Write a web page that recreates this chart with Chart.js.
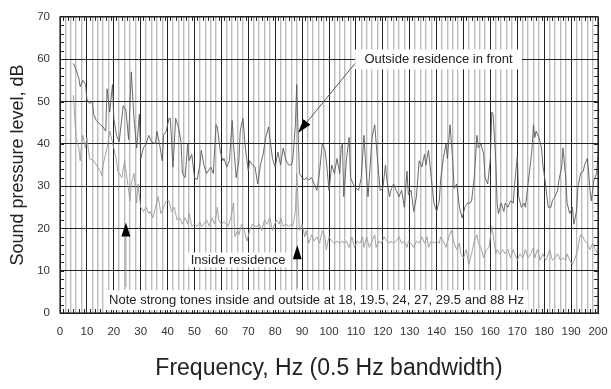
<!DOCTYPE html>
<html>
<head>
<meta charset="utf-8">
<script src="https://cdn.jsdelivr.net/npm/chart.js@4"></script>
<style>
  html, body { margin: 0; padding: 0; background: #fff; }
  #wrap { width: 611px; height: 389px; }
</style>
</head>
<body>
<div id="wrap"><canvas id="chart" width="611" height="389"></canvas></div>
<script>
// outside residence in front (Hz, dB)
const outsideHz = [5,6,7,7.5,8.5,9.5,10,11,12,12.5,13.5,15,16,17,17.5,18.5,19.5,20,21,22,23.5,24.5,25.5,26.5,27.5,28.5,29.5,30,31,32,33,34,35.5,36,37,38,38.5,39.5,40.5,41,42,43,44,45,45.5,46.5,47.5,48,49,50,51,52,52.5,53.5,54.5,55,56,57,58,58.5,59.5,60.5,61,62,63,64,64.5,65.5,66.5,67,68,69,70,70.5,71.5,72.5,73.5,74.5,75.5,76.5,77.5,78,79,80,81,82,83,84,85,86,86.5,87.5,88,88.5,89,90,91,91.5,92.5,93.5,94.5,95.5,96.5,97.5,98.5,99,100,101,102,103,104,104.5,105,105.5,106.5,107.5,108,109,110,111,112,113,113.5,114.5,115,116,117,118,119,120,121,121.5,122.5,123,124,125,126,127,128,129,129.5,130.5,131.5,132.5,133.5,134.5,135.5,136,137,138,139,140,141,141.5,142.5,143.5,144,145,146,146.5,147.5,148.5,149.5,150.5,151.5,152.5,153,154,155,155.5,156.5,157.5,158,159,160,160.5,161,162,162.5,163,164,165,165.5,166.5,167.5,168.5,169,170,170.5,171.5,172.5,173,174,175,175.5,176,176.5,177,178,178.5,179,179.5,180.5,181,181.5,182.5,183,184,185,185.5,186.5,187,188,188.5,189.5,190.5,191,192,192.5,193.5,194.5,195,196,196.5,197,197.5,198.5,199.5,200];
const outsideDb = [59,57.5,55.5,53.5,55,54,50.5,49.5,50,47,45.5,44.5,44,43,53,47.5,54,46,42,40.5,49,48,41,57,46,39,47,36.5,39,40,42,40.5,40,43,40,36,42,43,46,46,34.5,46,44,40.5,33,32,40,36,37.5,32,31.5,35,38.5,35,33,33.5,34.5,33,44.5,44,38.5,36,36.5,34.5,36,45.5,40,32,36,43,46,38.5,33.5,36,35,34.5,30.5,35,37.5,41.5,44,41.5,36.5,34.5,38,35,39,36,35,35,36,44.5,54,43,33,32,31.5,32,31.5,32,30.5,29,33.5,40,38.5,36,29,35,33,36.5,33,39,40,27.5,36.5,41.5,32,30.5,29.5,29,32,42,36.5,27.5,32,41.5,44.5,36.5,29,29.5,35,31.5,27.5,29,30.5,29,27.5,29,25,33.5,28,29,24,27.5,36,34.5,37.5,35,38.5,32,26,24,26.5,31.5,36.5,40,36.5,44.5,36,29.5,30.5,25,22.5,25,26,26,26.5,32,42,39,40,37.5,32,30.5,36.5,47.5,47,36,26,23.5,26,24,26,25,26.5,26,30.5,37,27.5,25,26,25,30.5,36,39,44.5,41.5,43,41.5,40.5,39,35,30.5,27.5,25,25,26.5,27.5,29,31.5,34.5,39,32,26,23.5,25,21,24,29.5,33,33.5,35,36.5,33.5,29,26.5,31.5,33,37];

// inside residence (Hz, dB)
const insideHz = [5,5.5,6,7,7.5,8,8.5,9.5,10,11,12.5,13.5,15,15.5,16,17.5,18.5,20,21,21.5,23,24,25.5,26,26.5,27.5,28.5,29,30,31,32,33,33.5,34.5,35.5,36.5,37.5,38.5,39.5,40.5,41.5,42.5,43.5,44.5,45.5,46.5,47.5,48,49,50,51,52,52.5,53.5,54.5,55.5,56.5,57.5,58.5,59,60,61,62,62.5,63.5,64.5,65,66,66.5,67.5,68.5,69.5,70.5,71.5,72.5,73.5,74,75,76,77,78,79,79.5,80.5,81.5,82,83,84,85,86,86.5,87.5,88,89,90,91,91.5,92.5,93.5,94.5,95.5,96.5,97.5,98.5,99,100,101,102,103,104,105,105.5,106.5,107.5,108.5,109.5,110.5,111.5,112.5,113,114,115,116,117,117.5,118.5,119.5,120.5,121.5,122.5,123,124,125,126,127,128,129,129.5,130.5,131.5,132.5,133.5,134.5,135.5,136.5,137,138,139,140,141,141.5,142.5,143.5,144.5,145.5,146.5,147.5,148.5,149,150,151,152,153,154,155,155.5,156.5,157.5,158.5,159.5,160.5,161,162,162.5,163.5,164.5,165.5,166.5,167.5,168.5,169,170,171,172,173,174,175,176,176.5,177.5,178.5,179.5,180.5,181,182,183,184,185,186,187,188,188.5,189.5,190.5,191.5,192.5,193,193.5,194.5,195,196,197,198,199,200];
const insideDb = [51.5,46,41.5,39,36,40,42,39,41.5,36.5,36,35,33.5,32.5,35,39,43,39,36,33.5,32,36,29,26.5,30.5,33,26,30.5,25,24,25,23.5,24,22.5,25,27.5,23.5,25,26.5,26.5,24,25,22,22.5,21,22.5,21,23.5,20.5,21,20.5,21.5,20.5,21,22,20.5,22.5,21,25,22,21,21.5,21,20.5,22.5,26,18,19.5,18.5,21,19.5,17,19.5,21,20.5,20.5,21,19.5,22,21,22.5,19.5,20.5,22,21,22.5,20.5,21,20.5,21,20.5,24,33,19.5,21,18,19.5,16.5,18.5,17,18,16.5,19.5,18,15,18,17,16.5,17,16.5,17,16.5,17,15.5,18,15.5,17,16.5,18,15.5,18,15.5,17,18.5,15.5,17,16.5,18,17,16.5,17,16.5,17,18,16.5,17,15.5,17,16.5,15.5,17,16.5,18,16.5,18,15.5,17,16.5,17,16.5,18,17,15.5,18,19.5,16.5,15,16.5,14,13,15,11.5,14,17,18.5,16.5,15.5,13,15,15.5,20.5,18.5,14,15,14,15,14,15,13,15,14,12.5,14,13,15,13,14,15.5,13,15,12.5,14,12.5,13,15,12.5,13,14,12.5,13,12.5,14,12.5,11.5,13,15,17,18.5,18,17,16.5,15,16.5,15,14];

const xTickValues = [0,10,20,30,40,50,60,70,80,90,100,110,120,130,140,150,160,170,180,190,200];
const yTickValues = [0,10,20,30,40,50,60,70];

const FONT = '"Liberation Sans", Arial, sans-serif';

function toPoints(xs, ys) {
    return xs.map((x, i) => ({ x: x, y: ys[i] }));
}

function drawArrow(ctx, x1, y1, x2, y2, lineColor) {
    const ang = Math.atan2(y2 - y1, x2 - x1);
    const headLen = 14, headW = 4.5;
    const bx = x2 - headLen * Math.cos(ang);
    const by = y2 - headLen * Math.sin(ang);
    ctx.strokeStyle = lineColor;
    ctx.lineWidth = 1;
    ctx.beginPath();
    ctx.moveTo(x1, y1);
    ctx.lineTo(bx, by);
    ctx.stroke();
    ctx.fillStyle = '#000';
    ctx.beginPath();
    ctx.moveTo(x2, y2);
    ctx.lineTo(bx + headW * Math.sin(ang), by - headW * Math.cos(ang));
    ctx.lineTo(bx - headW * Math.sin(ang), by + headW * Math.cos(ang));
    ctx.closePath();
    ctx.fill();
}

// frame, inward ticks, notes and arrows
const extrasPlugin = {
    id: 'extras',
    afterDatasetsDraw(chart) {
        const ctx = chart.ctx;
        const xs = chart.scales.x, ys = chart.scales.y;
        const a = chart.chartArea;
        const px = v => xs.getPixelForValue(v);
        const py = v => ys.getPixelForValue(v);
        ctx.save();

        // inward tick marks
        ctx.strokeStyle = '#222';
        ctx.lineWidth = 1;
        ctx.beginPath();
        for (let v = 2; v < 70; v += 2) {
            const y = Math.round(py(v)) + 0.5;
            ctx.moveTo(a.left, y); ctx.lineTo(a.left + 4, y);
            ctx.moveTo(a.right, y); ctx.lineTo(a.right - 4, y);
        }
        for (let v = 1; v < 200; v += 2) {
            const x = Math.round(px(v)) + 0.5;
            ctx.moveTo(x, a.top); ctx.lineTo(x, a.top + 4);
            ctx.moveTo(x, a.bottom); ctx.lineTo(x, a.bottom - 4);
        }
        ctx.stroke();

        // text boxes
        const boxes = [
            { x0: 109.7, x1: 171.7, y0: 57.6, y1: 62.3, text: 'Outside residence in front' },
            { x0: 47.6, x1: 84.8, y0: 10.8, y1: 14.3, text: 'Inside residence' },
            { x0: 16.7, x1: 174, y0: 0.7, y1: 5.4, text: 'Note strong tones inside and outside at 18, 19.5, 24, 27, 29.5 and 88 Hz' }
        ];
        ctx.font = '13px ' + FONT;
        ctx.textAlign = 'center';
        ctx.textBaseline = 'middle';
        boxes.forEach(b => {
            const l = px(b.x0), r = px(b.x1), t = py(b.y1), btm = py(b.y0);
            ctx.fillStyle = '#fff';
            ctx.fillRect(l, t, r - l, btm - t);
            ctx.fillStyle = '#222';
            ctx.fillText(b.text, (l + r) / 2, (t + btm) / 2 + 0.5);
        });

        // arrows
        drawArrow(ctx, px(109.7), py(59), px(88.5), py(42.6), '#555');
        drawArrow(ctx, px(88.2), py(5.9), px(88.2), py(16), '#999');
        drawArrow(ctx, px(24.5), py(6.1), px(24.5), py(21.4), '#999');

        // frame
        ctx.strokeStyle = '#222';
        ctx.lineWidth = 1.2;
        ctx.strokeRect(a.left, a.top, a.right - a.left, a.bottom - a.top);
        ctx.restore();
    }
};

new Chart(document.getElementById('chart'), {
    type: 'line',
    data: {
        datasets: [
            {
                label: 'Outside residence in front',
                data: toPoints(outsideHz, outsideDb),
                borderColor: '#5a5a5a',
                borderWidth: 0.9,
                pointRadius: 0,
                tension: 0
            },
            {
                label: 'Inside residence',
                data: toPoints(insideHz, insideDb),
                borderColor: '#9a9a9a',
                borderWidth: 0.9,
                pointRadius: 0,
                tension: 0
            }
        ]
    },
    options: {
        responsive: false,
        animation: false,
        layout: { padding: { left: 0, right: 13, top: 15, bottom: 0 } },
        plugins: {
            legend: { display: false },
            tooltip: { enabled: false }
        },
        scales: {
            x: {
                type: 'linear',
                min: 0,
                max: 200,
                afterFit: s => { s.height = 76; s.paddingLeft = 0; s.paddingRight = 0; },
                ticks: {
                    stepSize: 2,
                    autoSkip: false,
                    maxRotation: 0,
                    padding: 12,
                    color: '#333',
                    font: { family: FONT, size: 11.5 },
                    callback: v => xTickValues.includes(v) ? String(v) : ''
                },
                grid: {
                    drawTicks: false,
                    color: c => (c.tick && c.tick.value % 10 === 0) ? '#222' : '#bcbcbc',
                    lineWidth: c => (c.tick && c.tick.value % 10 === 0) ? 1 : 1.4
                },
                border: { color: '#222' },
                title: {
                    display: true,
                    text: 'Frequency, Hz (0.5 Hz bandwidth)',
                    color: '#222',
                    font: { family: FONT, size: 23 },
                    padding: { top: 0, bottom: 7 }
                }
            },
            y: {
                min: 0,
                max: 70,
                afterFit: s => { s.width = 60; },
                ticks: {
                    stepSize: 10,
                    padding: 10,
                    color: '#333',
                    font: { family: FONT, size: 11.5 },
                    callback: v => yTickValues.includes(v) ? String(v) : ''
                },
                grid: { drawTicks: false, color: '#222', lineWidth: 1 },
                border: { color: '#222' },
                title: {
                    display: true,
                    text: 'Sound pressure level, dB',
                    color: '#222',
                    font: { family: FONT, size: 18 },
                    padding: { top: 7, bottom: 0 }
                }
            }
        }
    },
    plugins: [extrasPlugin]
});
</script>
</body>
</html>
